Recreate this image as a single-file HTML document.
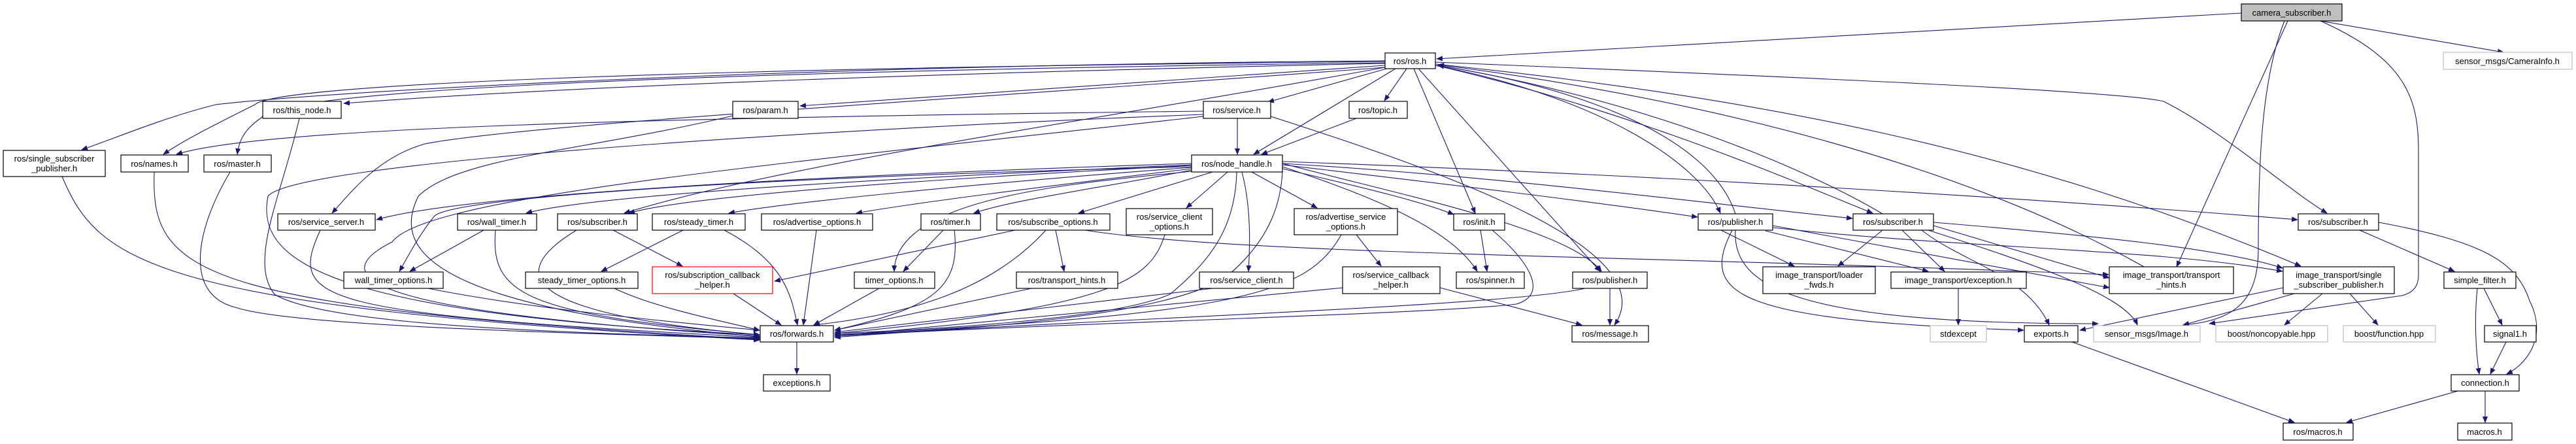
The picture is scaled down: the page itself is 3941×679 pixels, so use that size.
<!DOCTYPE html>
<html><head><meta charset="utf-8"><style>
html,body{margin:0;padding:0;background:#fff;}
svg{display:block;}
text{font-family:"Liberation Sans",sans-serif;font-size:13px;fill:#000;text-anchor:middle;}
.e{fill:none;stroke:#191970;stroke-width:1.1;marker-end:url(#a);}
.n{fill:#fff;stroke:#000;stroke-width:1.2;}
.g{fill:#fff;stroke:#bfbfbf;stroke-width:1.2;}
</style></head><body>
<svg width="3941" height="679" viewBox="0 0 3941 679" xmlns="http://www.w3.org/2000/svg">
<defs><marker id="a" markerWidth="10" markerHeight="8" refX="9" refY="4" orient="auto" markerUnits="userSpaceOnUse"><polygon points="0,0 10,4 0,8" fill="#191970"/></marker></defs>
<g>
<path class="e" d="M3429,20 L2198,90"/>
<path class="e" d="M3550,32 L3830,80"/>
<path class="e" d="M3500,32 L3330,408"/>
<path class="e" d="M3495,32 C3460,120 3455,250 3455,380 C3455,460 3420,490 3340,497"/>
<path class="e" d="M3550,32 C3680,90 3700,150 3700,230 L3700,420 C3700,440 3690,448 3675,452 L3380,495"/>
<path class="e" d="M2119,97 C1500,110 900,130 526,158"/>
<path class="e" d="M2119,93 C1200,100 500,140 330,160 C250,180 180,210 125,229"/>
<path class="e" d="M2119,94 C1000,105 420,130 390,160 C330,190 280,215 250,236"/>
<path class="e" d="M2119,96 C1000,110 420,140 400,180 C370,200 365,220 363,236"/>
<path class="e" d="M2119,100 L1224,162"/>
<path class="e" d="M2125,104 L1940,156"/>
<path class="e" d="M2152,105 L2118,154"/>
<path class="e" d="M2135,105 L1918,236"/>
<path class="e" d="M2075,181 L1930,236"/>
<path class="e" d="M1893,181 L1893,236"/>
<path class="e" d="M1841,170 C1000,180 400,195 270,236"/>
<path class="e" d="M1841,175 C1200,200 450,250 410,300 C390,400 500,480 1162,512"/>
<path class="e" d="M1944,178 C2200,260 2550,380 2470,497"/>
<path class="e" d="M1121,177 C900,230 700,240 640,300 C600,380 650,470 1162,515"/>
<path class="e" d="M2119,103 C1500,150 800,190 650,220 C580,240 540,290 508,326"/>
<path class="e" d="M458,181 C430,300 380,400 420,450 C500,500 900,510 1162,517"/>
<path class="e" d="M95,270 C150,400 230,470 1162,520"/>
<path class="e" d="M236,263 C230,420 300,470 1162,519"/>
<path class="e" d="M352,263 C300,350 280,450 360,470 C450,500 900,510 1162,518"/>
<path class="e" d="M490,352 C440,460 480,480 1162,516"/>
<path class="e" d="M1841,178 C1200,250 650,300 600,370 C480,430 600,480 1162,514"/>
<path class="e" d="M2119,103 C1700,180 1200,250 955,326"/>
<path class="e" d="M1823,250 C1200,270 700,300 576,336"/>
<path class="e" d="M1823,252 C1300,275 900,300 805,326"/>
<path class="e" d="M1823,253 C1400,275 1050,300 962,326"/>
<path class="e" d="M1823,255 C1200,270 700,300 665,330 C640,360 620,400 611,415"/>
<path class="e" d="M1823,256 C1500,280 1200,310 1115,326"/>
<path class="e" d="M1823,258 C1600,285 1400,310 1310,326"/>
<path class="e" d="M1823,260 C1700,285 1550,305 1490,326"/>
<path class="e" d="M1823,262 C1650,280 1370,300 1368,415"/>
<path class="e" d="M1855,263 L1650,326"/>
<path class="e" d="M1878,263 L1815,318"/>
<path class="e" d="M1900,263 C1915,320 1912,380 1910,415"/>
<path class="e" d="M1892,263 C1890,350 1850,400 1790,450 C1700,490 1400,505 1277,510"/>
<path class="e" d="M1962,250 C2150,300 2400,350 2450,415"/>
<path class="e" d="M1962,255 C2100,300 2220,350 2260,415"/>
<path class="e" d="M1962,258 C2100,290 2180,310 2224,328"/>
<path class="e" d="M1915,263 L2015,318"/>
<path class="e" d="M1962,252 C2200,280 2450,310 2597,332"/>
<path class="e" d="M1962,250 C2300,270 2600,310 2834,334"/>
<path class="e" d="M1962,247 C2600,270 3200,310 3515,336"/>
<path class="e" d="M1962,262 C1960,300 1950,360 1880,420 C1800,480 1500,505 1277,512"/>
<path class="e" d="M2163,105 L2257,326"/>
<path class="e" d="M2170,105 L2448,415"/>
<path class="e" d="M2196,100 C2450,150 2600,250 2632,326"/>
<path class="e" d="M2655,327 C2620,220 2450,140 2200,100"/>
<path class="e" d="M2196,100 C2500,170 2750,280 2865,326"/>
<path class="e" d="M2880,327 C2750,250 2500,150 2200,100"/>
<path class="e" d="M2196,98 C2700,150 3100,230 3520,407"/>
<path class="e" d="M3280,408 C3000,250 2600,150 2200,99"/>
<path class="e" d="M2196,95 C2800,120 3250,140 3310,155 C3400,200 3500,290 3560,326"/>
<path class="e" d="M3610,352 L3755,415"/>
<path class="e" d="M3639,340 C3800,370 3850,400 3870,460 C3900,520 3860,560 3835,572"/>
<path class="e" d="M3790,441 C3785,490 3788,540 3793,572"/>
<path class="e" d="M3800,441 L3828,497"/>
<path class="e" d="M3834,523 L3810,572"/>
<path class="e" d="M3760,598 L3590,646"/>
<path class="e" d="M3802,598 L3802,646"/>
<path class="e" d="M3170,523 L3510,646"/>
<path class="e" d="M3493,440 L3182,505"/>
<path class="e" d="M3510,449 L3340,497"/>
<path class="e" d="M3553,449 L3495,497"/>
<path class="e" d="M3595,449 L3638,497"/>
<path class="e" d="M2633,352 L2745,407"/>
<path class="e" d="M2701,353 L2950,415"/>
<path class="e" d="M2712,345 L3227,440"/>
<path class="e" d="M2712,348 C3000,380 3300,380 3492,415"/>
<path class="e" d="M2650,352 C2600,450 2650,490 3096,505"/>
<path class="e" d="M2655,352 C2650,440 2750,495 3210,495"/>
<path class="e" d="M2880,352 L2812,407"/>
<path class="e" d="M2910,352 L2975,415"/>
<path class="e" d="M2958,345 L3227,425"/>
<path class="e" d="M2958,340 C3200,360 3400,380 3492,410"/>
<path class="e" d="M2940,352 C3000,400 3100,420 3135,497"/>
<path class="e" d="M2950,352 C3100,400 3250,450 3270,497"/>
<path class="e" d="M2996,441 L2996,497"/>
<path class="e" d="M1553,352 L1185,430"/>
<path class="e" d="M1600,352 C1520,440 1400,480 1245,497"/>
<path class="e" d="M1615,352 L1628,415"/>
<path class="e" d="M1660,352 C1900,390 2500,390 3226,420"/>
<path class="e" d="M1443,352 L1382,415"/>
<path class="e" d="M1460,352 C1470,440 1430,470 1277,505"/>
<path class="e" d="M1045,352 L920,415"/>
<path class="e" d="M938,352 L1044,407"/>
<path class="e" d="M1108,352 C1200,400 1210,450 1220,497"/>
<path class="e" d="M1249,352 L1229,497"/>
<path class="e" d="M1122,449 L1195,497"/>
<path class="e" d="M740,352 L627,415"/>
<path class="e" d="M758,352 C750,450 800,480 1162,512"/>
<path class="e" d="M882,352 C770,420 800,480 1162,512"/>
<path class="e" d="M655,441 C800,470 1000,490 1162,505"/>
<path class="e" d="M940,441 C1000,470 1100,490 1162,505"/>
<path class="e" d="M1345,441 L1245,497"/>
<path class="e" d="M1578,441 L1277,505"/>
<path class="e" d="M1855,441 L1277,508"/>
<path class="e" d="M1782,359 C1760,430 1700,470 1277,510"/>
<path class="e" d="M2052,359 C2000,450 1900,480 1277,512"/>
<path class="e" d="M2075,359 L2113,407"/>
<path class="e" d="M2055,440 L1277,514"/>
<path class="e" d="M2203,440 L2420,497"/>
<path class="e" d="M2265,352 L2275,415"/>
<path class="e" d="M2283,352 C2340,400 2370,450 2320,465 C2200,480 1600,495 1277,514"/>
<path class="e" d="M2425,441 C2300,470 1600,490 1277,516"/>
<path class="e" d="M2463,441 L2463,497"/>
<path class="e" d="M1219,523 L1219,572"/>
</g>
<g>
<rect x="3429" y="6" width="154" height="26" fill="#bfbfbf" stroke="#000" stroke-width="1.2"/><text x="3506" y="24">camera_subscriber.h</text>
<rect class="g" x="3738" y="80" width="197" height="26"/><text x="3836" y="98">sensor_msgs/CameraInfo.h</text>
<rect class="n" x="2119" y="81" width="77" height="24"/><text x="2157" y="98">ros/ros.h</text>
<rect class="n" x="402" y="155" width="120" height="26"/><text x="462" y="173">ros/this_node.h</text>
<rect class="n" x="1121" y="155" width="100" height="26"/><text x="1171" y="173">ros/param.h</text>
<rect class="n" x="1841" y="155" width="103" height="26"/><text x="1892" y="173">ros/service.h</text>
<rect class="n" x="2064" y="155" width="89" height="26"/><text x="2108" y="173">ros/topic.h</text>
<rect class="n" x="5" y="230" width="156" height="40"/><text x="83" y="247">ros/single_subscriber</text><text x="83" y="262">_publisher.h</text>
<rect class="n" x="185" y="237" width="103" height="26"/><text x="236" y="255">ros/names.h</text>
<rect class="n" x="312" y="237" width="103" height="26"/><text x="363" y="255">ros/master.h</text>
<rect class="n" x="1823" y="237" width="139" height="26"/><text x="1892" y="255">ros/node_handle.h</text>
<rect class="n" x="425" y="327" width="149" height="25"/><text x="499" y="344">ros/service_server.h</text>
<rect class="n" x="700" y="327" width="121" height="25"/><text x="760" y="344">ros/wall_timer.h</text>
<rect class="n" x="853" y="327" width="122" height="25"/><text x="914" y="344">ros/subscriber.h</text>
<rect class="n" x="998" y="327" width="142" height="25"/><text x="1069" y="344">ros/steady_timer.h</text>
<rect class="n" x="1165" y="327" width="170" height="25"/><text x="1250" y="344">ros/advertise_options.h</text>
<rect class="n" x="1409" y="327" width="91" height="25"/><text x="1454" y="344">ros/timer.h</text>
<rect class="n" x="1525" y="327" width="173" height="25"/><text x="1611" y="344">ros/subscribe_options.h</text>
<rect class="n" x="1723" y="319" width="132" height="40"/><text x="1789" y="336">ros/service_client</text><text x="1789" y="351">_options.h</text>
<rect class="n" x="1980" y="319" width="158" height="40"/><text x="2059" y="336">ros/advertise_service</text><text x="2059" y="351">_options.h</text>
<rect class="n" x="2224" y="327" width="78" height="25"/><text x="2263" y="344">ros/init.h</text>
<rect class="n" x="2598" y="327" width="114" height="25"/><text x="2655" y="344">ros/publisher.h</text>
<rect class="n" x="2835" y="327" width="123" height="25"/><text x="2896" y="344">ros/subscriber.h</text>
<rect class="n" x="3516" y="327" width="123" height="25"/><text x="3577" y="344">ros/subscriber.h</text>
<rect class="n" x="526" y="416" width="152" height="25"/><text x="602" y="433">wall_timer_options.h</text>
<rect class="n" x="804" y="416" width="172" height="25"/><text x="890" y="433">steady_timer_options.h</text>
<rect x="998" y="408" width="184" height="41" fill="#fff" stroke="#ff0000" stroke-width="1.2"/><text x="1090" y="425">ros/subscription_callback</text><text x="1090" y="440">_helper.h</text>
<rect class="n" x="1307" y="416" width="123" height="25"/><text x="1368" y="433">timer_options.h</text>
<rect class="n" x="1555" y="416" width="155" height="25"/><text x="1632" y="433">ros/transport_hints.h</text>
<rect class="n" x="1835" y="416" width="144" height="25"/><text x="1907" y="433">ros/service_client.h</text>
<rect class="n" x="2054" y="408" width="149" height="41"/><text x="2128" y="425">ros/service_callback</text><text x="2128" y="440">_helper.h</text>
<rect class="n" x="2228" y="416" width="104" height="25"/><text x="2280" y="433">ros/spinner.h</text>
<rect class="n" x="2406" y="416" width="114" height="25"/><text x="2463" y="433">ros/publisher.h</text>
<rect class="n" x="2697" y="408" width="172" height="41"/><text x="2783" y="425">image_transport/loader</text><text x="2783" y="440">_fwds.h</text>
<rect class="n" x="2893" y="416" width="207" height="25"/><text x="2996" y="433">image_transport/exception.h</text>
<rect class="n" x="3227" y="408" width="190" height="41"/><text x="3322" y="425">image_transport/transport</text><text x="3322" y="440">_hints.h</text>
<rect class="n" x="3493" y="408" width="170" height="41"/><text x="3578" y="425">image_transport/single</text><text x="3578" y="440">_subscriber_publisher.h</text>
<rect class="n" x="3739" y="416" width="110" height="25"/><text x="3794" y="433">simple_filter.h</text>
<rect class="n" x="1163" y="498" width="112" height="25"/><text x="1219" y="515">ros/forwards.h</text>
<rect class="n" x="2405" y="498" width="117" height="25"/><text x="2463" y="515">ros/message.h</text>
<rect class="g" x="2953" y="498" width="86" height="25"/><text x="2996" y="515">stdexcept</text>
<rect class="n" x="3097" y="498" width="82" height="25"/><text x="3138" y="515">exports.h</text>
<rect class="g" x="3203" y="498" width="163" height="25"/><text x="3284" y="515">sensor_msgs/Image.h</text>
<rect class="g" x="3390" y="498" width="171" height="25"/><text x="3475" y="515">boost/noncopyable.hpp</text>
<rect class="g" x="3585" y="498" width="141" height="25"/><text x="3655" y="515">boost/function.hpp</text>
<rect class="n" x="3801" y="498" width="79" height="25"/><text x="3840" y="515">signal1.h</text>
<rect class="n" x="1168" y="573" width="102" height="25"/><text x="1219" y="590">exceptions.h</text>
<rect class="n" x="3750" y="573" width="104" height="25"/><text x="3802" y="590">connection.h</text>
<rect class="n" x="3493" y="647" width="107" height="26"/><text x="3546" y="665">ros/macros.h</text>
<rect class="n" x="3760" y="647" width="83" height="26"/><text x="3801" y="665">macros.h</text>
</g>
</svg>
</body></html>
